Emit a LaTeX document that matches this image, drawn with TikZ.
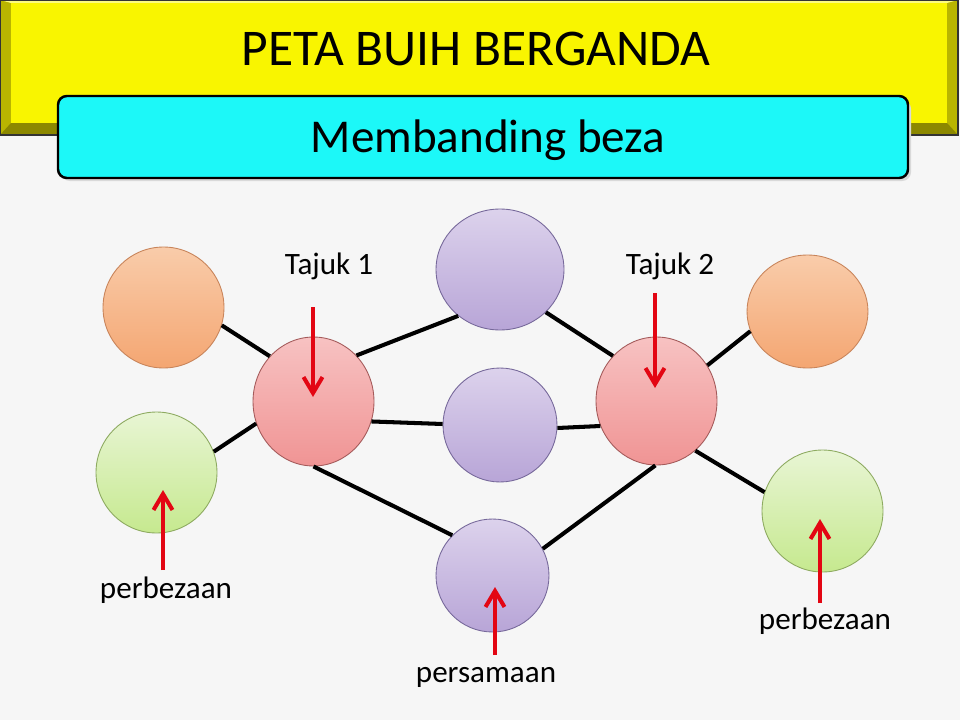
\documentclass[tikz,border=0pt]{standalone}
\usepackage{fontspec}
\setmainfont{Carlito}
\usetikzlibrary{arrows.meta, shapes.geometric}
\definecolor{cbg}{HTML}{F6F6F6}
\definecolor{cyellow}{HTML}{F9F500}
\definecolor{cbevel}{HTML}{B9B500}
\definecolor{cbevelbot}{HTML}{8C8800}
\definecolor{cbeveltop}{HTML}{FCFA80}
\definecolor{ccyan}{HTML}{1CF8F8}
\definecolor{cred}{HTML}{E30613}
\definecolor{corange}{HTML}{F4A672}
\definecolor{corangetop}{HTML}{F9CCAA}
\definecolor{corangeline}{HTML}{C8845A}
\definecolor{cgreen}{HTML}{C6E98F}
\definecolor{cgreentop}{HTML}{E8F5D4}
\definecolor{cgreenline}{HTML}{8DAA60}
\definecolor{cpink}{HTML}{F09494}
\definecolor{cpinktop}{HTML}{F7C2C2}
\definecolor{cpinkline}{HTML}{A45A5A}
\definecolor{cviolet}{HTML}{B8A5D7}
\definecolor{cviolettop}{HTML}{DCD2EC}
\definecolor{cvioletline}{HTML}{76689A}
\tikzset{
  every picture/.style={line width=1.2pt},
  bubble/.style n args={3}{ellipse, draw=#1, top color=#2, bottom color=#3, line width=0.5pt, inner sep=0pt},
  orangebub/.style={bubble={corangeline}{corangetop}{corange}},
  greenbub/.style={bubble={cgreenline}{cgreentop}{cgreen}},
  pinkbub/.style={bubble={cpinkline}{cpinktop}{cpink}},
  violetbub/.style={bubble={cvioletline}{cviolettop}{cviolet}},
  link/.style={draw=black, line width=2.3pt},
  pointer/.style={-{Straight Barb[length=3.2mm, width=3.8mm]}, draw=cred, line width=2.3pt},
  tag/.style={font=\fontsize{17.7}{21}\selectfont, anchor=base, inner sep=0pt},
}

\begin{document}
\begin{tikzpicture}[x=0.02cm, y=-0.02cm]
  \useasboundingbox (0,0) rectangle (960,720);
  \fill[cbg] (0,0) rectangle (960,720);
  % title banner
  \fill[cbevel] (0,0) rectangle (958,135);
  \fill[cbevelbot] (0,135) -- (958,135) -- (947,123) -- (11,123) -- cycle;
  \fill[cbeveltop] (0,0) -- (958,0) -- (947,3) -- (11,3) -- cycle;
  \fill[cyellow] (11,3) rectangle (947,123);
  \draw[line width=1pt, black!80] (0,0) rectangle (958,135);
  \node[font=\fontsize{29.3}{34}\selectfont, anchor=base, inner sep=0pt] (title) at (476,65) {PETA BUIH BERGANDA};
  \fill[black!15, rounded corners=5pt] (61,100) rectangle (911,181);
  \draw[fill=ccyan, rounded corners=5pt, line width=1.4pt] (58,96) rectangle (908,178);
  \node[font=\fontsize{26.8}{32}\selectfont, anchor=base, inner sep=0pt] (sub) at (488,152) {Membanding beza};
  % bubbles
  \node[orangebub, minimum width=2.42cm, minimum height=2.42cm] (o1) at (163.5,307.5) {};
  \node[greenbub, minimum width=2.42cm, minimum height=2.42cm] (g1) at (156.5,472.5) {};
  \node[pinkbub, minimum width=2.42cm, minimum height=2.58cm] (r1) at (313.5,401.5) {};
  \node[violetbub, minimum width=2.56cm, minimum height=2.42cm] (p1) at (500,269.5) {};
  \node[violetbub, minimum width=2.28cm, minimum height=2.28cm] (p2) at (500,425) {};
  \node[violetbub, minimum width=2.26cm, minimum height=2.26cm] (p3) at (492.5,575.5) {};
  \node[pinkbub, minimum width=2.42cm, minimum height=2.56cm] (r2) at (656.5,401) {};
  \node[orangebub, minimum width=2.42cm, minimum height=2.26cm] (o2) at (807.5,311.5) {};
  \node[greenbub, minimum width=2.42cm, minimum height=2.44cm] (g2) at (822.5,511) {};
  % links
  \draw[link] (o1.-17) -- (r1.134);
  \draw[link] (g1.20) -- (r1.201);
  \draw[link] (r1.47) -- (p1.228);
  \draw[link] (r1.-19) -- (p2.179);
  \draw[link] (r1.-90) -- (p3.135);
  \draw[link] (p1.-43) -- (r2.134);
  \draw[link] (p2.-3) -- (r2.204);
  \draw[link] (p3.28) -- (r2.-91);
  \draw[link] (r2.35) -- (o2.199);
  \draw[link] (r2.-52) -- (g2.162);
  % labels and pointers
  \node[tag] (t1) at (329,274) {Tajuk 1};
  \node[tag] (t2) at (670,274) {Tajuk 2};
  \node[tag] (d1) at (166,598) {perbezaan};
  \node[tag] (s1) at (486,682) {persamaan};
  \node[tag] (d2) at (825,629) {perbezaan};
  \coordinate (t1a) at (313,307);
  \coordinate (t1b) at (313,397);
  \coordinate (t2a) at (655,293);
  \coordinate (t2b) at (655,388);
  \coordinate (d1a) at (163,570);
  \coordinate (d1b) at (163,490);
  \coordinate (s1a) at (495,655);
  \coordinate (s1b) at (495,587);
  \coordinate (d2a) at (820,603);
  \coordinate (d2b) at (820,519);
  \draw[pointer] (t1a) -- (t1b);
  \draw[pointer] (t2a) -- (t2b);
  \draw[pointer] (d1a) -- (d1b);
  \draw[pointer] (s1a) -- (s1b);
  \draw[pointer] (d2a) -- (d2b);
\end{tikzpicture}
\end{document}
